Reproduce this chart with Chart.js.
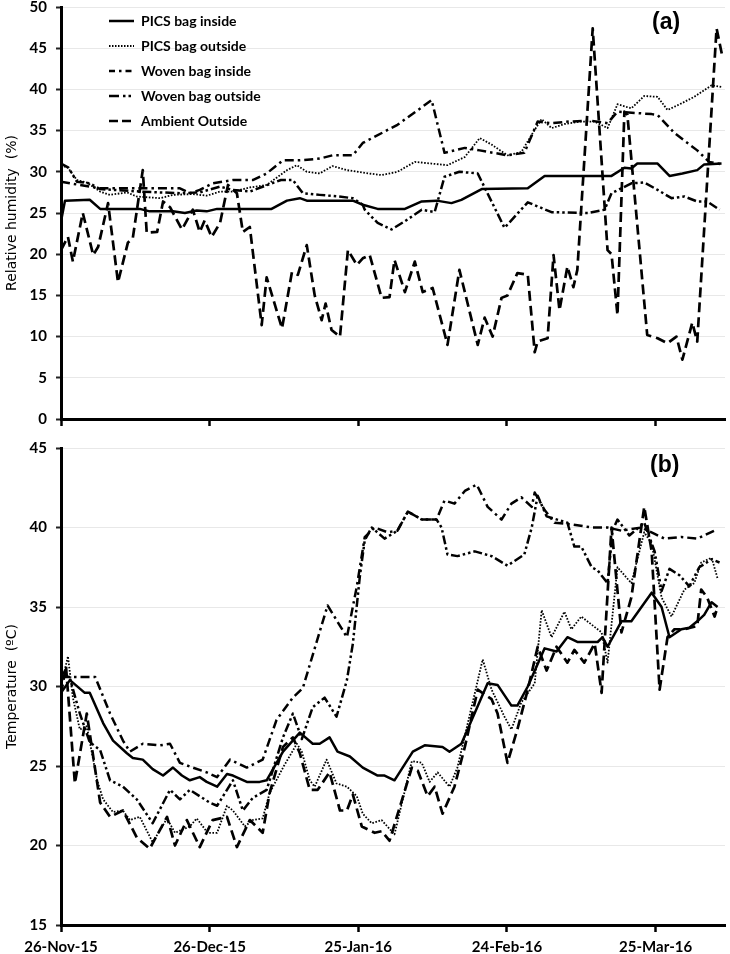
<!DOCTYPE html>
<html>
<head>
<meta charset="utf-8">
<script src="https://cdn.jsdelivr.net/npm/chart.js@4.4.1/dist/chart.umd.min.js"></script>
<style>
  html, body { margin: 0; padding: 0; background: #fff; }
  #wrap { position: relative; width: 730px; height: 954px; overflow: hidden; }
  #ca { position: absolute; left: 0; top: 0; }
  #cb { position: absolute; left: 0; top: 432px; }
  .tag { position: absolute; font-family: "Liberation Sans", Arial, sans-serif; font-weight: bold; font-size: 23px; line-height: 23px; color: #000; }
</style>
</head>
<body>
<div id="wrap">
  <canvas id="ca" width="730" height="432"></canvas>
  <canvas id="cb" width="730" height="522"></canvas>
  <div class="tag" style="left:652px; top:10px;">(a)</div>
  <div class="tag" style="left:650px; top:453px;">(b)</div>
</div>
<script>
// ---------- categories / ticks ----------
const seriesNames = ['PICS bag inside', 'PICS bag outside', 'Woven bag inside', 'Woven bag outside', 'Ambient Outside'];
const tickDays = [0, 30, 60, 90, 120];               // days after 26-Nov-15
const tickLabels = ['26-Nov-15', '26-Dec-15', '25-Jan-16', '24-Feb-16', '25-Mar-16'];
const rhTickValues = [0, 5, 10, 15, 20, 25, 30, 35, 40, 45, 50];
const tempTickValues = [15, 20, 25, 30, 35, 40, 45];

// ---------- (a) Relative humidity (%) : [day, value] ----------
const rhPicsIn = [[0,24.0],[0.8,26.5],[5.8,26.6],[7.9,25.5],[15.9,25.5],[17.9,25.2],[22.6,25.2],[25,25.0],[27.4,25.3],[29.4,25.2],[31.5,25.5],[42.5,25.5],[45.6,26.5],[48.2,26.8],[49.6,26.5],[58.9,26.5],[60.9,26.0],[63.9,25.5],[69.4,25.5],[72.8,26.4],[75.8,26.5],[78.8,26.2],[80.8,26.6],[84.9,27.9],[94.2,28.0],[97.6,29.5],[111.1,29.5],[113.7,30.5],[115.1,30.4],[116.3,31.0],[120.4,31.0],[122.8,29.5],[125.4,29.8],[128.4,30.2],[129.8,30.9],[133.3,31.0]];
const rhPicsOut = [[0,30.8],[1.4,30.5],[3.2,29.0],[5.2,28.7],[7.9,27.6],[9.9,27.2],[13.3,27.5],[15.3,27.0],[20,26.8],[22.6,27.2],[26.6,27.3],[29.4,27.1],[32.1,27.6],[34.7,27.6],[38.1,28.1],[41.5,28.4],[45.6,30.2],[47.6,30.8],[49.6,30.0],[52.2,29.8],[54.8,30.7],[57.7,30.2],[60.9,29.9],[64.7,29.6],[67.9,30.0],[71.4,31.2],[74.8,31.0],[78,30.8],[81.5,31.8],[84.5,34.1],[86.9,33.3],[90.1,32.0],[92.9,32.4],[95.6,35.1],[97,36.4],[99,35.3],[101.6,35.8],[105,36.1],[107.7,36.1],[110.3,35.3],[112.3,38.2],[115.1,37.7],[117.7,39.2],[120.4,39.1],[122.4,37.5],[125.2,38.3],[127.8,39.1],[131.3,40.5],[133.3,40.3]];
const rhWovenIn = [[0,28.8],[3.8,28.4],[7.9,28.0],[24,28.0],[26,27.4],[28,27.8],[30.6,28.6],[34.7,29.0],[38.7,29.0],[41.5,29.8],[44.8,31.4],[48.2,31.4],[52.2,31.6],[54.8,32.0],[58.9,32.0],[60.9,33.5],[67.9,35.7],[74.8,38.7],[77.4,32.3],[81.5,32.9],[84.5,32.6],[90.1,32.0],[93.5,32.3],[96.2,36.1],[99,35.9],[102.6,36.1],[107,36.2],[110.3,35.9],[112.3,37.3],[119.2,37.0],[120.4,36.9],[123.8,34.7],[128.4,32.6],[130.8,31.2],[133.3,30.9]];
const rhWovenOut = [[0,31.0],[1.5,30.5],[3.2,28.8],[5.8,28.6],[7.9,27.9],[16,27.6],[24,27.4],[28,27.5],[32.1,28.2],[34.7,27.8],[38.1,27.6],[42.1,28.5],[44.4,29.0],[46.8,29.0],[48.8,27.4],[52.2,27.2],[56,27.0],[58.9,26.8],[60.9,26.0],[61.3,25.4],[63.9,23.8],[66.7,23.0],[69.4,24.0],[72.8,25.4],[75.4,25.1],[77.4,29.4],[80.4,30.0],[84.1,29.8],[89.5,23.2],[94.2,26.3],[99,25.1],[106.3,25.0],[109.7,25.4],[111.1,27.4],[115.1,28.6],[117.7,28.7],[120.4,27.8],[123.2,26.8],[125.8,27.0],[128.4,26.4],[130.4,26.4],[132.9,25.4]];
const rhAmbient = [[0,20.5],[1.4,22.1],[2.4,19.1],[4.4,25.0],[6.5,19.9],[7.5,20.9],[9.5,26.2],[11.5,16.6],[13.5,21.4],[14.5,22.0],[16.5,30.2],[17.3,22.6],[19.4,22.7],[20.6,26.4],[22,25.7],[24.4,23.0],[26.6,25.4],[28,22.7],[29,24.1],[30.4,22.1],[32.1,23.8],[33.7,28.4],[35.5,27.4],[36.7,22.7],[38.1,23.3],[40.5,11.4],[41.5,17.2],[44.6,11.0],[46.6,17.8],[47.8,17.5],[49.6,21.1],[51.2,15.0],[52.6,12.0],[53.4,14.0],[54.6,10.8],[56.3,10.0],[57.9,20.5],[59.7,18.7],[60.9,19.5],[62.3,19.9],[64.7,14.7],[66.3,14.8],[67.3,19.3],[69.4,15.4],[71.4,19.1],[73,15.4],[75,15.9],[78,9.0],[80.4,18.1],[84.1,9.0],[85.5,12.3],[87.1,10.0],[88.9,14.7],[90.1,15.0],[92.1,17.7],[94.2,17.5],[95.6,8.1],[96.2,9.4],[98.2,9.8],[99.4,19.9],[100.6,13.2],[102.2,18.5],[103.4,16.0],[104.2,18.1],[107.3,47.4],[110.3,20.5],[111.1,20.0],[112.3,12.6],[113.7,37.3],[114.3,36.9],[118.3,10.2],[120.4,9.8],[122.4,9.2],[124.2,10.0],[125.4,7.2],[127.4,11.7],[128.4,9.4],[132.3,47.4],[133.5,43.9]];

// ---------- (b) Temperature (ºC) : [day, value] ----------
const tPicsIn = [[0,29.6],[1.8,30.4],[4.8,29.6],[5.8,29.6],[8.5,27.7],[10.5,26.6],[13.3,25.8],[14.5,25.5],[16.5,25.4],[18.5,24.8],[20.6,24.4],[22.6,24.9],[24.4,24.4],[26,24.1],[28,24.3],[29.4,24.0],[31.5,23.7],[33.5,24.5],[34.7,24.4],[37.5,24.0],[40.1,24.0],[41.5,24.1],[44.8,25.9],[48.2,27.1],[50.8,26.4],[52.2,26.4],[54.2,26.8],[55.8,25.9],[58.3,25.6],[60.9,24.9],[63.9,24.4],[65.3,24.4],[67.3,24.1],[71,25.9],[73.4,26.3],[77,26.2],[78.4,25.9],[80.8,26.4],[86.1,30.2],[88.1,30.1],[90.9,28.8],[92.1,28.8],[94.2,30.0],[97.6,32.4],[100,32.2],[102.2,33.1],[104.2,32.8],[108.3,32.8],[109.3,33.1],[110.3,32.5],[113.1,34.1],[115.1,34.1],[119.2,35.9],[121.2,35.0],[122.8,33.1],[125.2,33.6],[126.8,33.7],[128.4,34.1],[129.8,34.5],[131.3,35.3],[132.5,35.0]];
const tPicsOut = [[0,30.0],[1.4,31.9],[2.4,29.3],[3.8,27.3],[5.2,27.5],[7.3,24.1],[8.5,22.9],[10.5,22.1],[12.5,22.2],[13.9,21.6],[15.9,21.8],[18.5,20.2],[21.4,21.7],[23,20.8],[26,21.2],[27.4,21.7],[29.6,20.8],[31.5,20.8],[33.5,22.5],[34.7,22.2],[37.1,21.2],[38.7,21.6],[40.7,21.7],[42.1,23.3],[44.8,24.9],[47.6,26.4],[48.6,25.9],[50.2,24.1],[51.2,23.7],[53.6,25.4],[55.6,23.9],[57.7,23.7],[59.7,23.1],[60.9,22.0],[62.7,21.4],[64.7,21.6],[67.3,20.7],[70.8,25.3],[72.8,25.2],[74.4,24.0],[76,24.6],[78.4,23.7],[80,24.9],[85.1,31.7],[86.9,29.8],[89.5,28.1],[90.9,27.3],[92.9,29.0],[95.6,30.2],[97,34.8],[99,33.1],[101.6,34.7],[103,33.6],[105,34.4],[109.1,33.4],[110.3,31.5],[112.3,37.5],[115.1,36.5],[117.7,39.7],[119.2,39.0],[121.2,35.6],[123.2,34.4],[125.8,36.1],[127.8,36.5],[129.2,37.8],[131.3,38.1],[132.5,36.8]];
const tWovenIn = [[0,30.6],[6.9,30.6],[9.9,28.3],[12.5,26.6],[13.9,25.9],[16.5,26.4],[20,26.3],[22,26.4],[24,25.2],[26.6,24.9],[29.4,24.6],[31.5,24.3],[34.1,25.4],[37.5,24.9],[40.7,25.4],[43.5,27.9],[46.8,29.3],[48.8,29.9],[53.8,35.1],[57.7,33.1],[59.7,36.3],[61.3,39.4],[63.3,40.0],[65.9,39.7],[67.9,39.8],[70,41.0],[72.8,40.5],[75.8,40.5],[77.4,41.7],[79.4,41.5],[81.5,42.3],[83.9,42.7],[86.1,41.3],[88.9,40.5],[90.9,41.5],[92.9,41.9],[95,41.3],[95.6,42.2],[97.6,41.1],[99.6,40.3],[103,40.2],[107.1,40.0],[110.3,40.0],[113.1,39.8],[117.1,40.0],[119.8,39.6],[121.8,39.3],[125.2,39.4],[128.4,39.3],[132.5,39.9]];
const tWovenOut = [[0,31.0],[1.8,30.5],[3.8,28.3],[5.8,26.5],[7.9,26.0],[9.9,24.1],[12.5,23.7],[15.3,22.9],[18.5,21.4],[22,23.5],[24,22.9],[26,23.5],[30,22.7],[31.5,22.5],[34.7,24.1],[36.7,22.2],[38.7,23.0],[41.5,23.5],[44.8,26.8],[46.8,28.3],[48.6,26.7],[50.8,28.7],[53.2,29.3],[55.6,28.1],[57.7,30.4],[58.9,32.7],[60.3,36.9],[61.3,39.2],[62.7,40.0],[65.3,39.3],[67.9,39.8],[70,41.0],[72.8,40.5],[75.8,40.5],[76.8,40.0],[78,38.3],[80,38.2],[83.5,38.5],[86.9,38.2],[90.1,37.6],[93.5,38.3],[95,40.0],[96.2,42.0],[98,40.7],[102.2,40.3],[103.6,38.8],[105,38.8],[107.1,37.5],[108.3,37.3],[110.3,36.5],[111.3,39.8],[112.3,40.5],[114.7,39.5],[117.7,40.3],[119.8,38.5],[121.2,36.0],[122.8,37.4],[124.8,37.0],[126.8,36.3],[128.8,37.5],[131.3,38.0],[132.9,37.8]];
const tAmbient = [[0,29.5],[1,31.3],[2.8,23.9],[5.2,28.3],[7.9,22.7],[9.9,21.8],[12.5,22.2],[15.3,20.5],[17.9,19.8],[21.4,21.8],[23,20.0],[25.4,21.6],[28,19.9],[30.6,21.6],[33.5,21.8],[35.5,19.9],[38.1,21.6],[40.7,20.8],[42.1,23.3],[44.8,26.2],[46.8,26.8],[48.2,25.8],[50.2,23.5],[51.8,23.5],[54.2,24.6],[56.3,22.2],[57.7,22.2],[58.9,23.2],[60.7,21.2],[63.3,20.8],[64.7,20.9],[66.3,20.3],[70.8,24.9],[72,24.7],[74,23.1],[75.4,23.7],[77,22.0],[79.4,23.7],[81.5,26.2],[84.1,29.8],[86.9,29.2],[88.1,28.3],[90.1,25.2],[92.1,27.3],[94.2,29.8],[96.2,32.5],[98,31.0],[100,32.5],[102.2,31.5],[103.6,32.3],[105.6,31.5],[107.7,32.7],[109.1,29.6],[111.1,40.0],[113.1,33.4],[115.1,35.6],[117.7,41.3],[119.2,38.5],[120.8,29.8],[122.4,33.1],[123.8,33.6],[125.8,33.6],[128.4,33.8],[129.2,36.1],[130.4,35.6],[131.9,34.4],[132.5,35.0]];

const rhSeries = [rhPicsIn, rhPicsOut, rhWovenIn, rhWovenOut, rhAmbient];
const tempSeries = [tPicsIn, tPicsOut, tWovenIn, tWovenOut, tAmbient];

// ---------- styles ----------
const lineStyles = [
  { borderDash: [], borderWidth: 2.5 },
  { borderDash: [1.6, 1.6], borderWidth: 1.8 },
  { borderDash: [9, 4, 2.5, 4], borderWidth: 2.5 },
  { borderDash: [9, 3, 2.5, 3, 2.5, 3], borderWidth: 2.5 },
  { borderDash: [10, 5], borderWidth: 2.7 }
];
const legendDash = [[], [1.5, 1.5], [6, 4, 2.5, 4], [10, 4, 2.5, 3, 2.5, 3], [9, 4]];

Chart.defaults.font.family = 'Lato, "Liberation Sans", sans-serif';
Chart.defaults.color = '#000';

function makeSets(series) {
  return series.map((arr, i) => ({
    label: seriesNames[i],
    data: arr.map(p => ({ x: p[0], y: p[1] })),
    borderColor: '#000',
    backgroundColor: '#000',
    borderWidth: lineStyles[i].borderWidth,
    borderDash: lineStyles[i].borderDash,
    borderCapStyle: 'butt',
    borderJoinStyle: 'round',
    pointRadius: 0,
    pointHoverRadius: 0,
    pointStyle: 'line',
    tension: 0,
    fill: false
  }));
}

function noPad(s) { s.paddingTop = 0; s.paddingBottom = 0; s.paddingLeft = 0; s.paddingRight = 0; }

function xScale(showLabels, height) {
  return {
    type: 'linear', min: 0, max: 134,
    afterBuildTicks: s => { s.ticks = tickDays.map(v => ({ value: v })); },
    afterFit: s => { s.height = height; noPad(s); },
    grid: { drawOnChartArea: false, drawTicks: true, tickLength: 7, tickWidth: 2.5, tickColor: '#000' },
    border: { display: true, color: '#000', width: 3 },
    ticks: {
      display: showLabels, autoSkip: false, maxRotation: 0, minRotation: 0, padding: 6,
      color: '#000', font: { family: 'Lato', weight: 'bold', size: 15 },
      callback: v => { const k = tickDays.indexOf(v); return k >= 0 ? tickLabels[k] : ''; }
    }
  };
}

function yScale(min, max, tickVals, title) {
  return {
    type: 'linear', min: min, max: max,
    afterBuildTicks: s => { s.ticks = tickVals.map(v => ({ value: v })); },
    afterFit: s => { s.width = 61; noPad(s); },
    grid: { color: '#e8e8e8', lineWidth: 1, drawTicks: true, tickLength: 5, tickWidth: 2, tickColor: '#222' },
    border: { display: true, color: '#000', width: 3 },
    ticks: { padding: 9, color: '#000', font: { family: 'Lato', weight: 'bold', size: 15 } },
    title: { display: true, text: title, color: '#000', font: { family: '"DejaVu Sans"', size: 14 }, padding: { top: 3.5, bottom: 0 } }
  };
}

const legendPlace = {
  id: 'legendPlace',
  afterLayout(chart, args, opts) {
    const lg = chart.legend;
    if (!lg || !opts || opts.x == null) return;
    const w = lg.width, h = lg.height;
    lg.left = opts.x; lg.top = opts.y; lg.right = opts.x + w; lg.bottom = opts.y + h;
  }
};

new Chart(document.getElementById('ca'), {
  type: 'line',
  data: { datasets: makeSets(rhSeries) },
  options: {
    responsive: false, animation: false, devicePixelRatio: 1,
    layout: { autoPadding: false, padding: { top: 7, right: 5, bottom: 0, left: 0 } },
    plugins: {
      legend: {
        display: true, position: 'chartArea', align: 'start', fullSize: false,
        labels: {
          usePointStyle: true, pointStyle: 'line', pointStyleWidth: 25, boxHeight: 14,
          padding: 11, color: '#000', font: { family: 'Lato', weight: 'bold', size: 14 },
          generateLabels: chart => Chart.defaults.plugins.legend.labels.generateLabels(chart).map((it, i) =>
            Object.assign(it, { lineDash: legendDash[i], lineWidth: lineStyles[i].borderWidth, strokeStyle: '#000', fillStyle: '#000', lineCap: 'butt' }))
        }
      },
      tooltip: { enabled: false },
      legendPlace: { x: 98, y: 3 }
    },
    scales: { x: xScale(false, 13), y: yScale(0, 50, rhTickValues, 'Relative humidity  (%)') }
  },
  plugins: [legendPlace]
});

new Chart(document.getElementById('cb'), {
  type: 'line',
  data: { datasets: makeSets(tempSeries) },
  options: {
    responsive: false, animation: false, devicePixelRatio: 1,
    layout: { autoPadding: false, padding: { top: 16, right: 5, bottom: 0, left: 0 } },
    plugins: { legend: { display: false }, tooltip: { enabled: false } },
    scales: { x: xScale(true, 29), y: yScale(15, 45, tempTickValues, 'Temperature  (ºC)') }
  }
});
</script>
</body>
</html>
